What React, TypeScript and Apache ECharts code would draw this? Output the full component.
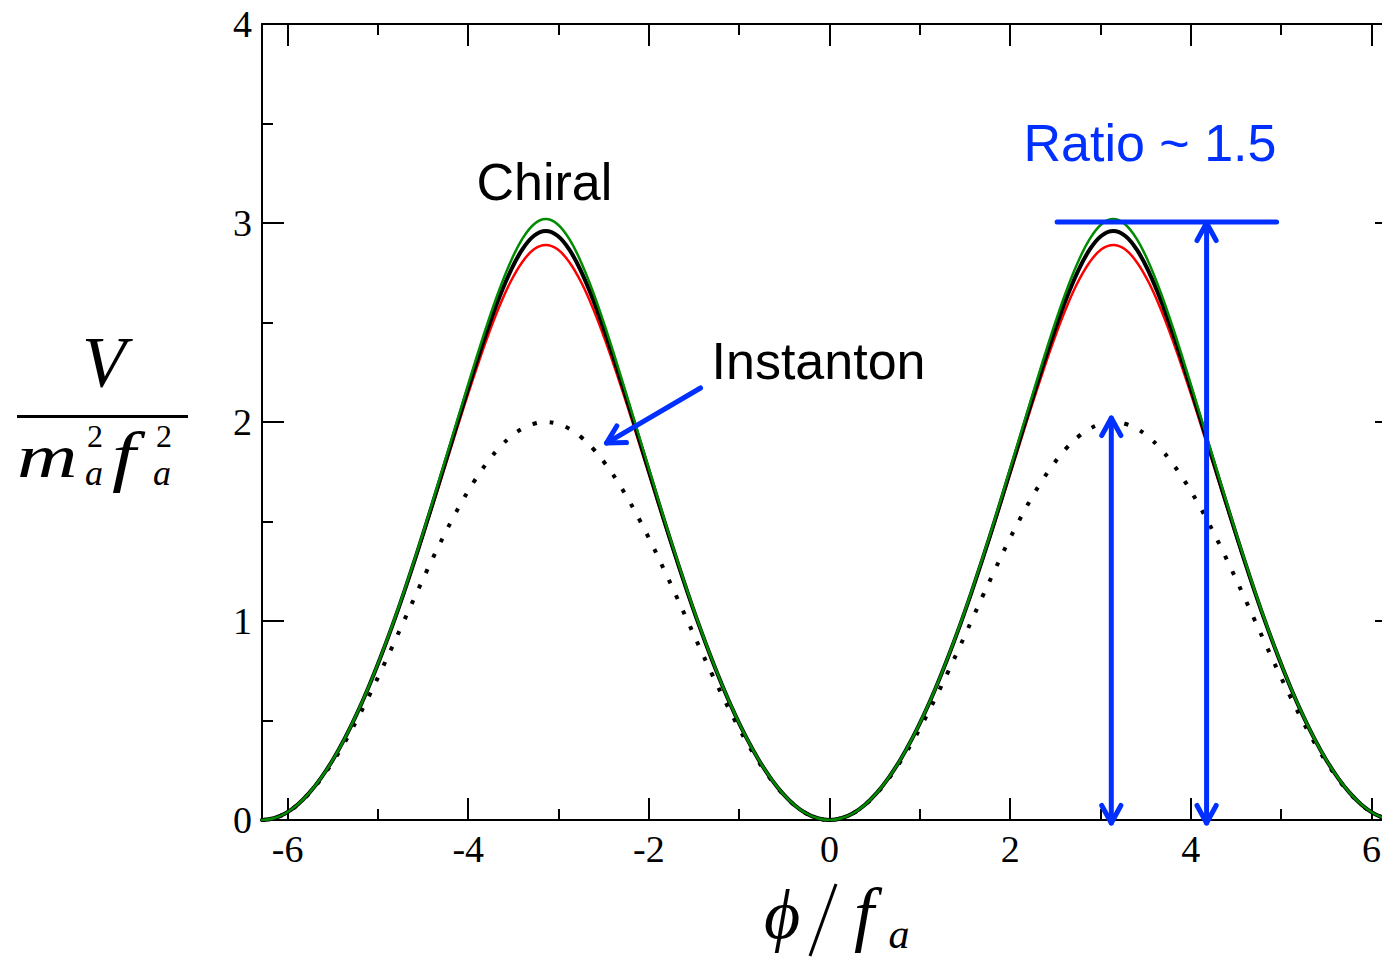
import React, { useEffect, useRef } from 'react';
import * as echarts from 'echarts';

// phi / f_a sample positions
const XS = [
  -6.283, -6.152, -6.021, -5.89, -5.76, -5.629, -5.498, -5.367, -5.236, -5.105, -4.974, -4.843,
  -4.712, -4.581, -4.451, -4.32, -4.189, -4.058, -3.927, -3.796, -3.665, -3.534, -3.403, -3.272,
  -3.142, -3.011, -2.88, -2.749, -2.618, -2.487, -2.356, -2.225, -2.094, -1.963, -1.833, -1.702,
  -1.571, -1.44, -1.309, -1.178, -1.047, -0.916, -0.785, -0.654, -0.524, -0.393, -0.262, -0.131,
  0,
  0.131, 0.262, 0.393, 0.524, 0.654, 0.785, 0.916, 1.047, 1.178, 1.309, 1.44, 1.571,
  1.702, 1.833, 1.963, 2.094, 2.225, 2.356, 2.487, 2.618, 2.749, 2.88, 3.011, 3.142,
  3.272, 3.403, 3.534, 3.665, 3.796, 3.927, 4.058, 4.189, 4.32, 4.451, 4.581, 4.712,
  4.843, 4.974, 5.105, 5.236, 5.367, 5.498, 5.629, 5.76, 5.89, 6.021, 6.152, 6.283,
];

// Chiral potential (central, black)
const CHIRAL = [
  0, 0.009, 0.034, 0.077, 0.136, 0.212, 0.303, 0.41, 0.531, 0.666, 0.814, 0.973,
  1.143, 1.322, 1.508, 1.699, 1.892, 2.085, 2.273, 2.452, 2.616, 2.756, 2.866, 2.936,
  2.96,
  2.936, 2.866, 2.756, 2.616, 2.452, 2.273, 2.085, 1.892, 1.699, 1.508, 1.322, 1.143,
  0.973, 0.814, 0.666, 0.531, 0.41, 0.303, 0.212, 0.136, 0.077, 0.034, 0.009, 0,
  0.009, 0.034, 0.077, 0.136, 0.212, 0.303, 0.41, 0.531, 0.666, 0.814, 0.973, 1.143,
  1.322, 1.508, 1.699, 1.892, 2.085, 2.273, 2.452, 2.616, 2.756, 2.866, 2.936, 2.96,
  2.936, 2.866, 2.756, 2.616, 2.452, 2.273, 2.085, 1.892, 1.699, 1.508, 1.322, 1.143,
  0.973, 0.814, 0.666, 0.531, 0.41, 0.303, 0.212, 0.136, 0.077, 0.034, 0.009, 0,
];

// Chiral potential, lower band (red)
const CHIRAL_LOW = [
  0, 0.009, 0.034, 0.077, 0.136, 0.211, 0.303, 0.409, 0.53, 0.664, 0.811, 0.97,
  1.138, 1.315, 1.498, 1.685, 1.874, 2.062, 2.243, 2.415, 2.57, 2.702, 2.803, 2.868,
  2.89,
  2.868, 2.803, 2.702, 2.57, 2.415, 2.243, 2.062, 1.874, 1.685, 1.498, 1.315, 1.138,
  0.97, 0.811, 0.664, 0.53, 0.409, 0.303, 0.211, 0.136, 0.077, 0.034, 0.009, 0,
  0.009, 0.034, 0.077, 0.136, 0.211, 0.303, 0.409, 0.53, 0.664, 0.811, 0.97, 1.138,
  1.315, 1.498, 1.685, 1.874, 2.062, 2.243, 2.415, 2.57, 2.702, 2.803, 2.868, 2.89,
  2.868, 2.803, 2.702, 2.57, 2.415, 2.243, 2.062, 1.874, 1.685, 1.498, 1.315, 1.138,
  0.97, 0.811, 0.664, 0.53, 0.409, 0.303, 0.211, 0.136, 0.077, 0.034, 0.009, 0,
];

// Chiral potential, upper band (green)
const CHIRAL_HIGH = [
  0, 0.009, 0.034, 0.077, 0.136, 0.212, 0.303, 0.41, 0.532, 0.667, 0.816, 0.976,
  1.147, 1.328, 1.516, 1.71, 1.907, 2.104, 2.297, 2.483, 2.654, 2.802, 2.919, 2.994,
  3.02,
  2.994, 2.919, 2.802, 2.654, 2.483, 2.297, 2.104, 1.907, 1.71, 1.516, 1.328, 1.147,
  0.976, 0.816, 0.667, 0.532, 0.41, 0.303, 0.212, 0.136, 0.077, 0.034, 0.009, 0,
  0.009, 0.034, 0.077, 0.136, 0.212, 0.303, 0.41, 0.532, 0.667, 0.816, 0.976, 1.147,
  1.328, 1.516, 1.71, 1.907, 2.104, 2.297, 2.483, 2.654, 2.802, 2.919, 2.994, 3.02,
  2.994, 2.919, 2.802, 2.654, 2.483, 2.297, 2.104, 1.907, 1.71, 1.516, 1.328, 1.147,
  0.976, 0.816, 0.667, 0.532, 0.41, 0.303, 0.212, 0.136, 0.077, 0.034, 0.009, 0,
];

// Instanton potential (dotted)
const INSTANTON = [
  0, 0.009, 0.034, 0.076, 0.134, 0.207, 0.293, 0.391, 0.5, 0.617, 0.741, 0.869,
  1.0, 1.131, 1.259, 1.383, 1.5, 1.609, 1.707, 1.793, 1.866, 1.924, 1.966, 1.991,
  2.0,
  1.991, 1.966, 1.924, 1.866, 1.793, 1.707, 1.609, 1.5, 1.383, 1.259, 1.131, 1.0,
  0.869, 0.741, 0.617, 0.5, 0.391, 0.293, 0.207, 0.134, 0.076, 0.034, 0.009, 0,
  0.009, 0.034, 0.076, 0.134, 0.207, 0.293, 0.391, 0.5, 0.617, 0.741, 0.869, 1.0,
  1.131, 1.259, 1.383, 1.5, 1.609, 1.707, 1.793, 1.866, 1.924, 1.966, 1.991, 2.0,
  1.991, 1.966, 1.924, 1.866, 1.793, 1.707, 1.609, 1.5, 1.383, 1.259, 1.131, 1.0,
  0.869, 0.741, 0.617, 0.5, 0.391, 0.293, 0.207, 0.134, 0.076, 0.034, 0.009, 0,
];

const X_MAJOR = [-6, -4, -2, 0, 2, 4, 6];
const X_MINOR = [-5, -3, -1, 1, 3, 5];

// annotation arrows: [x1, y1, x2, y2, headAtStart, headAtEnd]
const ARROWS = [
  [-1.428, 2.171, -2.469, 1.894, 0, 1],
  [3.12, -0.015, 3.12, 2.02, 1, 1],
  [4.175, -0.015, 4.175, 3.0, 1, 1],
  [2.52, 3.005, 4.95, 3.005, 0, 0],
];

// annotation texts and their anchor (left, middle) in data coords
const NOTE_TEXT = ['Chiral', 'Instanton', 'Ratio ~ 1.5'];
const NOTE_POS = [
  [-3.908, 3.206],
  [-1.306, 2.307],
  [2.148, 3.402],
];
const NOTE_COLOR = ['#000000', '#000000', '#0030ff'];

const BLUE = '#0030ff';
const SERIF = '"Liberation Serif", "Times New Roman", serif';
const SANS = '"Liberation Sans", Arial, Helvetica, sans-serif';

const pairs = (ys: number[]) => XS.map((x, i) => [x, ys[i]]);

export default function App() {
  const ref = useRef<HTMLDivElement>(null);

  useEffect(() => {
    if (!ref.current) return;
    const chart = echarts.init(ref.current, null, { renderer: 'svg' });

    const XMIN = -6.2832;
    const XMAX = 6.2832;
    const axisLine = { show: true, onZero: false, lineStyle: { color: '#000', width: 2 } };
    const tickStyle = { color: '#000', width: 2 };
    const tickLabel = {
      fontSize: 38,
      fontFamily: SERIF,
      color: '#000',
      margin: 10,
    };

    const mkX = (position: string, major: boolean, labels: boolean, line: boolean) => ({
      type: 'value',
      position,
      min: XMIN,
      max: XMAX,
      axisLine: line ? axisLine : { show: false, onZero: false },
      axisTick: {
        show: true,
        inside: true,
        length: major ? 22 : 11,
        lineStyle: tickStyle,
        customValues: major ? X_MAJOR : X_MINOR,
      },
      axisLabel: labels
        ? { show: true, ...tickLabel, customValues: X_MAJOR, formatter: (v: number) => String(Math.round(v)) }
        : { show: false },
      splitLine: { show: false },
    });

    const mkY = (position: string, labels: boolean) => ({
      type: 'value',
      position,
      min: 0,
      max: 4,
      interval: 1,
      axisLine,
      axisTick: { show: true, inside: true, length: 22, lineStyle: tickStyle },
      minorTick: { show: true, splitNumber: 2, length: 11, lineStyle: tickStyle },
      axisLabel: labels ? { show: true, ...tickLabel } : { show: false },
      splitLine: { show: false },
      minorSplitLine: { show: false },
    });

    const lineSeries = (name: string, ys: number[], color: string, width: number, z: number, type: any = 'solid') => ({
      name,
      type: 'line',
      data: pairs(ys),
      xAxisIndex: 0,
      yAxisIndex: 0,
      showSymbol: false,
      symbol: 'none',
      smooth: 0.4,
      z,
      lineStyle: { color, width, type, cap: type === 'solid' ? 'round' : 'butt', join: 'round' },
    });

    const mathText = (text: string, x: number, y: number, fontSize: number, italic: boolean, extra: any = {}) => ({
      type: 'text',
      x,
      y,
      ...extra,
      style: {
        text,
        fontSize,
        fontStyle: italic ? 'italic' : 'normal',
        fontFamily: SERIF,
        fill: '#000',
        align: extra.align || 'left',
        verticalAlign: 'middle',
      },
    });

    const option: any = {
      animation: false,
      backgroundColor: '#ffffff',
      grid: {
        left: 262,
        right: -15,
        top: 24,
        bottom: 139,
        containLabel: false,
        outerBoundsMode: 'none',
      },
      xAxis: [
        mkX('bottom', true, true, true),
        mkX('bottom', false, false, false),
        mkX('top', true, false, true),
        mkX('top', false, false, false),
      ],
      yAxis: [mkY('left', true), mkY('right', false)],
      series: [
        lineSeries('Instanton', INSTANTON, '#000000', 4, 2, [4, 13]),
        lineSeries('Chiral low', CHIRAL_LOW, '#ff0000', 2.5, 3),
        lineSeries('Chiral', CHIRAL, '#000000', 4, 4),
        lineSeries('Chiral high', CHIRAL_HIGH, '#008b00', 2.5, 5),
        {
          type: 'custom',
          name: 'arrows',
          xAxisIndex: 0,
          yAxisIndex: 0,
          clip: false,
          z: 10,
          data: ARROWS,
          renderItem: (params: any, api: any) => {
            const p1 = api.coord([api.value(0), api.value(1)]);
            const p2 = api.coord([api.value(2), api.value(3)]);
            const hs = api.value(4);
            const he = api.value(5);
            const style = { stroke: BLUE, lineWidth: 5, lineCap: 'round', lineJoin: 'round', fill: null };
            const children: any[] = [
              { type: 'line', shape: { x1: p1[0], y1: p1[1], x2: p2[0], y2: p2[1] }, style },
            ];
            const head = (tip: number[], from: number[]) => {
              const ang = Math.atan2(from[1] - tip[1], from[0] - tip[0]);
              const L = 20;
              const a = 0.5;
              return {
                type: 'polyline',
                shape: {
                  points: [
                    [tip[0] + L * Math.cos(ang + a), tip[1] + L * Math.sin(ang + a)],
                    [tip[0], tip[1]],
                    [tip[0] + L * Math.cos(ang - a), tip[1] + L * Math.sin(ang - a)],
                  ],
                },
                style,
              };
            };
            if (he) children.push(head(p2, p1));
            if (hs) children.push(head(p1, p2));
            return { type: 'group', children };
          },
        },
        {
          type: 'custom',
          name: 'notes',
          xAxisIndex: 0,
          yAxisIndex: 0,
          clip: false,
          z: 11,
          data: NOTE_POS,
          renderItem: (params: any, api: any) => {
            const p = api.coord([api.value(0), api.value(1)]);
            const i = params.dataIndex;
            return {
              type: 'text',
              x: p[0],
              y: p[1],
              style: {
                text: NOTE_TEXT[i],
                fill: NOTE_COLOR[i],
                fontSize: 52,
                fontFamily: SANS,
                align: 'left',
                verticalAlign: 'middle',
              },
            };
          },
        },
      ],
      graphic: [
        // y-axis title: V / (m_a^2 f_a^2)
        mathText('V', 104, 362, 72, true, { align: 'center' }),
        { type: 'rect', shape: { x: 17, y: 415, width: 171, height: 3 }, style: { fill: '#000' } },
        mathText('m', 17, 456, 62, true, { scaleX: 1.35 }),
        mathText('2', 87, 436, 32, false),
        mathText('a', 85, 473, 36, true),
        mathText('f', 112, 456, 68, true, { scaleX: 1.25 }),
        mathText('2', 156, 436, 32, false),
        mathText('a', 153, 473, 36, true),
        // x-axis title: phi / f_a
        mathText('ϕ', 782, 914, 70, true, { align: 'center' }),
        { type: 'line', shape: { x1: 810, y1: 956, x2: 836, y2: 884 }, style: { stroke: '#000', lineWidth: 3 } },
        mathText('f', 864, 914, 72, true, { align: 'center' }),
        mathText('a', 899, 934, 42, true, { align: 'center' }),
      ],
    };

    chart.setOption(option);
    return () => chart.dispose();
  }, []);

  return (
    <div style={{ position: 'fixed', left: 0, top: 0, width: 1382, height: 959, overflow: 'hidden', background: '#fff' }}>
      <div ref={ref} style={{ width: 1382, height: 959 }} />
    </div>
  );
}
